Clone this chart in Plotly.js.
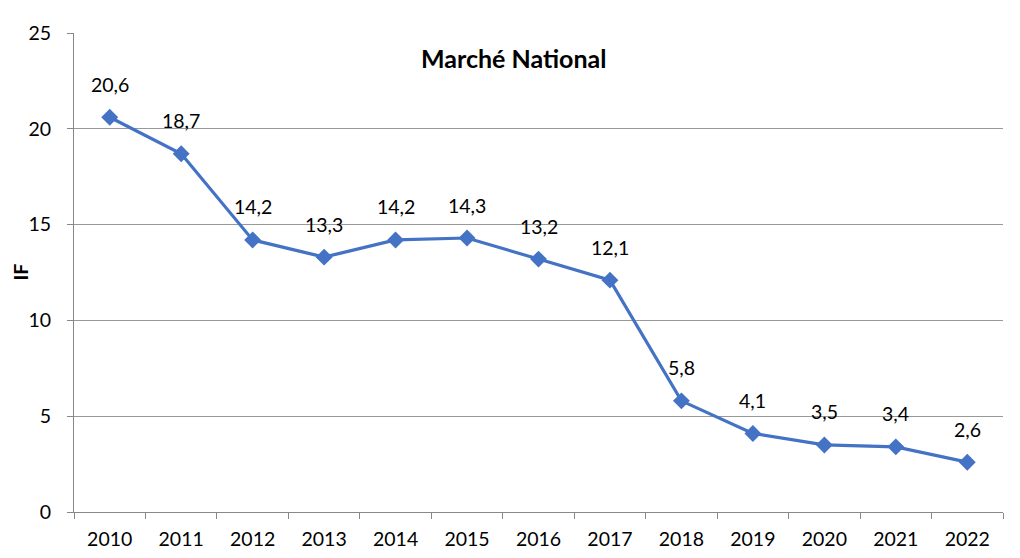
<!DOCTYPE html>
<html><head><meta charset="utf-8">
<script src="https://cdn.plot.ly/plotly-3.0.1.min.js"></script>
<style>html,body{margin:0;padding:0;background:#fff}#chart{width:1020px;height:558px}</style>
</head><body><div id="chart"></div>
<script>
const years = ['2010','2011','2012','2013','2014','2015','2016','2017','2018','2019','2020','2021','2022'];
const ifValues = [20.6, 18.7, 14.2, 13.3, 14.2, 14.3, 13.2, 12.1, 5.8, 4.1, 3.5, 3.4, 2.6];
const yTicks = [0, 5, 10, 15, 20, 25];
const chartTitle = 'Marché National';
const yTitle = 'IF';

const font = 'Lato, "Open Sans", sans-serif';
const labels = ifValues.map(v => v.toFixed(1).replace('.', ','));

const labelAnnotations = years.map((yr, i) => ({
  x: i, y: ifValues[i], xref: 'x', yref: 'y', text: labels[i],
  showarrow: false, yshift: 33, xanchor: 'center', yanchor: 'middle',
  font: {family: font, size: 19.5, color: '#000'}
}));

Plotly.newPlot('chart', [{
  x: years, y: ifValues, type: 'scatter', mode: 'lines+markers',
  line: {color: '#4472C4', width: 3.2},
  marker: {symbol: 'diamond', size: 13, color: '#4472C4'},
  cliponaxis: false, hoverinfo: 'x+y'
}], {
  width: 1020, height: 558,
  margin: {l: 74, r: 17, t: 33, b: 46},
  paper_bgcolor: '#fff', plot_bgcolor: '#fff',
  showlegend: false,
  font: {family: font, size: 19.5, color: '#000'},
  xaxis: {
    type: 'category', range: [-0.5, 12.5], tickson: 'boundaries',
    ticks: 'outside', ticklen: 6, tickcolor: '#888', tickwidth: 1,
    showline: true, linecolor: '#888', linewidth: 1,
    showgrid: false, zeroline: false, ticklabelstandoff: 10,
    tickfont: {family: font, size: 19.5, color: '#000'}
  },
  yaxis: {
    range: [0, 25], tickvals: yTicks, ticktext: yTicks.map(String),
    ticks: 'outside', ticklen: 6, tickcolor: '#888', tickwidth: 1,
    showline: true, linecolor: '#888', linewidth: 1,
    showgrid: true, gridcolor: '#999', gridwidth: 1, zeroline: false,
    ticklabelstandoff: 12,
    tickfont: {family: font, size: 19.5, color: '#000'}
  },
  annotations: [{
    text: '<b>' + chartTitle + '</b>', xref: 'paper', yref: 'paper',
    x: 0.4736, y: 0.948, xanchor: 'center', yanchor: 'middle', showarrow: false,
    font: {family: font, size: 25, color: '#000'}
  }, {
    text: '<b>' + yTitle + '</b>', xref: 'paper', yref: 'paper',
    x: -54 / 929, y: 0.5, xanchor: 'center', yanchor: 'middle', showarrow: false,
    textangle: -90, font: {family: font, size: 19.5, color: '#000'}
  }].concat(labelAnnotations)
}, {displayModeBar: false, staticPlot: true});
</script></body></html>
